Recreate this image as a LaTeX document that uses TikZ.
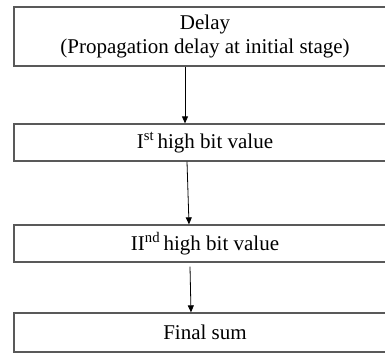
\documentclass[tikz,border=0pt]{standalone}
\usepackage{fontspec}
\setmainfont{Liberation Serif}
\usetikzlibrary{arrows.meta}
\begin{document}
\begin{tikzpicture}[x=1pt,y=-1pt,
  stagebox/.style={draw=black!65, line width=1.3pt, fill=white, minimum width=382pt,
    inner sep=0pt, align=center, font=\fontsize{21}{24}\selectfont, anchor=center},
  flow/.style={-{Triangle[length=7pt,width=6pt]}, line width=0.8pt, black}]
\clip (0,0) rectangle (385,354);
\fill[white] (0,0) rectangle (385,354);
\node[stagebox, minimum height=59pt] (b1) at (205,36.5) {Delay\\(Propagation delay at initial stage)};
\node[stagebox, minimum height=37pt] (b2) at (205,142.5) {I\textsuperscript{st}\,high bit value};
\node[stagebox, minimum height=37pt] (b3) at (205,243.5) {II\textsuperscript{nd}\,high bit value};
\node[stagebox, minimum height=39pt] (b4) at (205,332.5) {Final sum};
\draw[flow] ([xshift=-20pt]b1.south) -- ([xshift=-20pt]b2.north);
\draw[flow] ([xshift=-18pt]b2.south) -- ([xshift=-16pt]b3.north);
\draw[flow] ([xshift=-15pt,yshift=-4pt]b3.south) -- ([xshift=-14pt]b4.north);
\end{tikzpicture}
\end{document}
